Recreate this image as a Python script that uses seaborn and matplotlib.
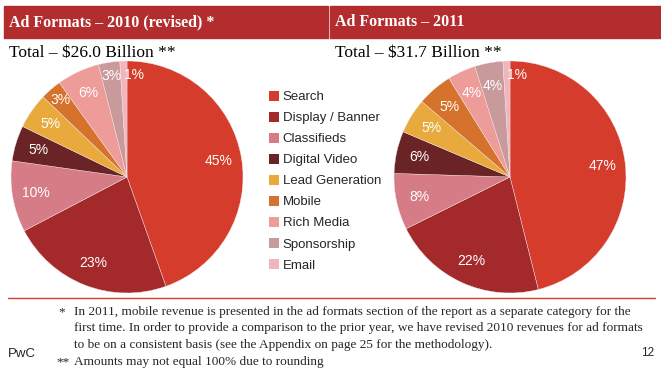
import seaborn as sns
import matplotlib.pyplot as plt
import numpy as np
from matplotlib.patches import Rectangle, Patch

categories = ["Search", "Display / Banner", "Classifieds", "Digital Video", "Lead Generation",
              "Mobile", "Rich Media", "Sponsorship", "Email"]
share_2010 = [45, 23, 10, 5, 5, 3, 6, 3, 1]
share_2011 = [47, 22, 8, 6, 5, 5, 4, 4, 1]
titles = ["Ad Formats \u2013 2010 (revised) *", "Ad Formats \u2013 2011"]
totals = ["Total \u2013 $26.0 Billion **", "Total \u2013 $31.7 Billion **"]
colors = ["#D63C2B", "#A3292B", "#D67C87", "#6B2426", "#E8AA3C",
          "#D5722B", "#EE9C99", "#C99A9C", "#F2B5BD"]
footnote = ["In 2011, mobile revenue is presented in the ad formats section of the report as a separate category for the",
            "first time. In order to provide a comparison to the prior year, we have revised 2010 revenues for ad formats",
            "to be on a consistent basis (see the Appendix on page 25 for the methodology)."]

sns.set_theme(style="white")
plt.rcParams['font.family'] = ['Liberation Sans', 'DejaVu Sans']

fig = plt.figure(figsize=(6.61, 3.72), dpi=100)
W, H = 661, 372

def fx(x): return x / W
def fy(y): return 1 - y / H

# header bars
hdr = "#B32D2E"
fig.patches.append(Rectangle((fx(4), fy(38)), fx(324), 32 / H, transform=fig.transFigure, color=hdr))
fig.patches.append(Rectangle((fx(330), fy(38)), fx(331), 32 / H, transform=fig.transFigure, color=hdr))
serif = ['Liberation Serif', 'DejaVu Serif']
fig.text(fx(9), fy(22), titles[0], color="white", fontsize=11.5, fontweight="bold", family=serif, va="center")
fig.text(fx(335), fy(22), titles[1], color="white", fontsize=11.5, fontweight="bold", family=serif, va="center")
fig.text(fx(9), fy(53), totals[0], color="black", fontsize=12.5, family=serif, va="center")
fig.text(fx(335), fy(53), totals[1], color="black", fontsize=12.5, family=serif, va="center")

def draw_pie(cx, cy, r, values):
    ax = fig.add_axes([fx(cx - r), fy(cy + r), 2 * r / W, 2 * r / H])
    wedges, _, autotexts = ax.pie(values, colors=colors, startangle=90, counterclock=False,
                                  autopct=lambda p: f"{p * sum(values) / 100:.0f}%", pctdistance=0.8,
                                  wedgeprops=dict(linewidth=0.3, edgecolor="#f4e4e4"),
                                  textprops=dict(color="white", fontsize=10))
    # push labels of thin slices further out, like the original
    for w, t, v in zip(wedges, autotexts, values):
        if v <= 3:
            a = np.deg2rad((w.theta1 + w.theta2) / 2)
            t.set_position((0.88 * np.cos(a), 0.88 * np.sin(a)))
    autotexts[-1].set_ha("left")
    ax.set_xlim(-1, 1)
    ax.set_ylim(-1, 1)
    ax.set_aspect("equal")
    ax.axis("off")

draw_pie(127, 177, 116, share_2010)
draw_pie(510, 177, 116, share_2011)

handles = [Patch(facecolor=c, edgecolor="none") for c in colors]
fig.legend(handles, categories, loc="upper left", bbox_to_anchor=(fx(269), fy(91)),
           frameon=False, fontsize=9.5, handlelength=0.75, handleheight=0.75,
           handletextpad=0.3, labelspacing=0.65, borderaxespad=0, borderpad=0)

# footer
fig.add_artist(plt.Line2D([fx(8), fx(655)], [fy(298), fy(298)], color="#D63C2B", lw=1, transform=fig.transFigure))
for line, y in zip(footnote, [312, 328, 345]):
    fig.text(fx(74), fy(y), line, fontsize=9.5, family=serif, va="center")
fig.text(fx(58), fy(312), "*", fontsize=9.5, family=serif, va="center")
fig.text(fx(56), fy(362), "**", fontsize=9.5, family=serif, va="center")
fig.text(fx(74), fy(362), "Amounts may not equal 100% due to rounding", fontsize=9.5, family=serif, va="center")
fig.text(fx(8), fy(354), "PwC", fontsize=9.5, va="center")
fig.text(fx(654), fy(353), "12", fontsize=8.5, va="center", ha="right")

fig.savefig("out.png", dpi=100)
